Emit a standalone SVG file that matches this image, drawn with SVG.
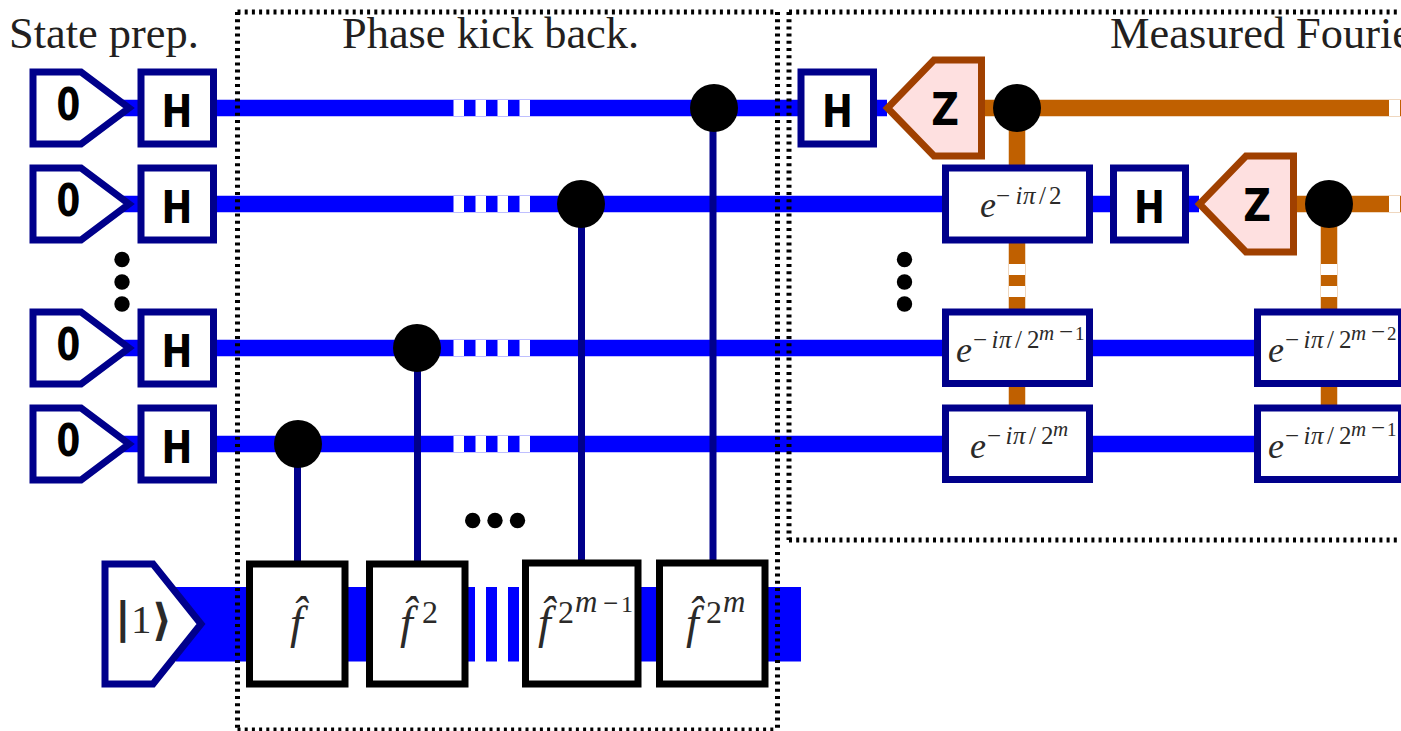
<svg xmlns="http://www.w3.org/2000/svg" width="1401" height="731" viewBox="0 0 1401 731">
<style>
.title{font-family:"Liberation Serif",serif;font-size:44.4px;fill:#231f20}
.lbl{font-family:"DejaVu Sans",sans-serif;font-weight:bold;font-size:45px;fill:#000;text-anchor:middle}
.m{font-family:"Liberation Serif",serif;font-style:italic;fill:#2b2a29}
.e{font-size:36px}.s{font-size:25px;font-style:normal}.si{font-size:25px}.ss{font-size:21px}.ssn{font-size:19px;font-style:normal}.ssm{font-size:25px;font-style:normal}
.f{font-size:46px}.sq{font-size:32px;font-style:normal}.sm{font-size:31px}.sn{font-size:24px;font-style:normal}.snm{font-size:27px;font-style:normal}
.bx{fill:#fff;stroke:#00008b;stroke-width:7}
.bk{fill:#fff;stroke:#000;stroke-width:7}
.zz{fill:#fee0e0;stroke:#a04000;stroke-width:7}
.blue{stroke:#00f;stroke-width:16.5;fill:none}
.or{stroke:#c06000;stroke-width:16.5;fill:none}
.ctl{stroke:#00008b;stroke-width:7;fill:none}
.dh{stroke:#000;stroke-width:5;stroke-dasharray:3 4.2;fill:none}
.dv{stroke:#000;stroke-width:5;stroke-dasharray:3 4.2;fill:none}
</style>
<defs>
<g id="gaps" fill="#fff"><rect x="453.5" y="-8" width="10.5" height="16"/><rect x="475.5" y="-8" width="10.5" height="16"/><rect x="497.5" y="-8" width="10.5" height="16"/><rect x="519.5" y="-8" width="10.5" height="16"/></g>
<g id="vgaps" fill="#fff"><rect x="-8" y="264" width="16" height="11"/><rect x="-8" y="286" width="16" height="11"/></g>
</defs>
<rect width="1401" height="731" fill="#fff"/>
<g id="connectors">
<path class="blue" d="M120 108H887M120 204H1199M120 348H1401M120 444H1401"/>
<path class="or" d="M985 108H1401M1297 204H1401M1017 108V408M1329 204V408"/>
<rect x="176" y="587" width="625" height="74.5" fill="#00f"/>
<use href="#gaps" y="108"/><use href="#gaps" y="204"/><use href="#gaps" y="348"/><use href="#gaps" y="444"/>
<rect x="1389" y="100" width="11" height="16" fill="#fff"/><rect x="1389" y="196" width="11" height="16" fill="#fff"/>
<use href="#vgaps" x="1017"/><use href="#vgaps" x="1329"/>
<rect x="475" y="586" width="11" height="76" fill="#fff"/><rect x="497" y="586" width="11" height="76" fill="#fff"/><rect x="519" y="586" width="3" height="76" fill="#fff"/>
<path class="ctl" d="M297.500 444V564M417.500 348V564M581.500 204V564M713 108V564"/>
</g>
<g id="frames">
<path class="dh" d="M237.500 12H777"/><path class="dv" d="M237.500 12V731"/><path class="dv" d="M777.500 12V731"/><path class="dh" d="M237.500 730H777" stroke-width="3"/>
<path class="dh" d="M789 12H1401"/><path class="dv" d="M789 12V540"/><path class="dh" d="M789 540H1401"/>
</g>
<g id="titles">
<text class="title" x="9" y="48">State prep.</text>
<text class="title" x="342" y="48">Phase kick back.</text>
<text class="title" x="1110" y="48">Measured Fourie</text>
</g>
<g id="state-row1"><path class="bx" d="M33 72H81L129 108L81 144H33Z"/><text class="lbl" transform="translate(68.500 120) scale(.76 1)">0</text></g>
<g id="state-row2"><path class="bx" d="M33 168H81L129 204L81 240H33Z"/><text class="lbl" transform="translate(68.500 216) scale(.76 1)">0</text></g>
<g id="state-row3"><path class="bx" d="M33 312H81L129 348L81 384H33Z"/><text class="lbl" transform="translate(68.500 360) scale(.76 1)">0</text></g>
<g id="state-row4"><path class="bx" d="M33 408H81L129 444L81 480H33Z"/><text class="lbl" transform="translate(68.500 456) scale(.76 1)">0</text></g>
<g id="h-row1"><rect class="bx" x="141" y="72" width="72.500" height="72"/><text class="lbl" transform="translate(177 126.500) scale(.82 1)">H</text></g>
<g id="h-row2"><rect class="bx" x="141" y="168" width="72.500" height="72"/><text class="lbl" transform="translate(177 222.500) scale(.82 1)">H</text></g>
<g id="h-row3"><rect class="bx" x="141" y="312" width="72.500" height="72"/><text class="lbl" transform="translate(177 366.500) scale(.82 1)">H</text></g>
<g id="h-row4"><rect class="bx" x="141" y="408" width="72.500" height="72"/><text class="lbl" transform="translate(177 462.500) scale(.82 1)">H</text></g>
<g id="ctrl1"><circle cx="298" cy="444" r="24"/></g>
<g id="ctrl2"><circle cx="417" cy="348" r="24"/></g>
<g id="ctrl3"><circle cx="581" cy="204" r="24"/></g>
<g id="ctrl4"><circle cx="714" cy="108" r="24"/></g>
<g id="dots-left"><circle cx="122" cy="259.500" r="7.700"/><circle cx="122" cy="282" r="7.700"/><circle cx="122" cy="304" r="7.700"/></g>
<g id="dots-mid"><circle cx="904.500" cy="259.500" r="7.700"/><circle cx="904.500" cy="282" r="7.700"/><circle cx="904.500" cy="304" r="7.700"/></g>
<g id="dots-bottom"><circle cx="472.700" cy="520.500" r="7.700"/><circle cx="495" cy="520.500" r="7.700"/><circle cx="517.500" cy="520.500" r="7.700"/></g>
<g id="h-m1"><rect class="bx" x="801" y="72" width="72.500" height="72"/><text class="lbl" transform="translate(837.500 126.500) scale(.82 1)">H</text></g>
<g id="z1"><path class="zz" d="M981.500 60H934L887.500 108L934 156H981.500Z"/><text class="lbl" transform="translate(945 125) scale(.85 1)">Z</text></g>
<g id="c-m1"><circle cx="1017" cy="108" r="24"/></g>
<g id="h-m2"><rect class="bx" x="1113.500" y="168" width="72" height="72"/><text class="lbl" transform="translate(1149.500 222.500) scale(.82 1)">H</text></g>
<g id="z2"><path class="zz" d="M1293.500 156H1246L1199.500 204L1246 252H1293.500Z"/><text class="lbl" transform="translate(1257 221) scale(.85 1)">Z</text></g>
<g id="c-m2"><circle cx="1329" cy="204" r="24"/></g>
<g id="phase-a"><rect class="bx" x="945.500" y="168" width="144" height="72"/>
<text class="m"><tspan class="e" x="980" y="217">e</tspan><tspan class="s" x="996" y="204">−</tspan><tspan class="si" x="1015.500" y="204">i</tspan><tspan class="si" x="1023" y="204">π</tspan><tspan class="s" x="1039" y="204">/</tspan><tspan class="s" x="1049" y="204">2</tspan></text></g>
<g id="phase-b"><rect class="bx" x="945.500" y="312" width="144" height="71.500"/>
<text class="m"><tspan class="e" x="956" y="361.500">e</tspan><tspan class="s" x="973" y="348">−</tspan><tspan class="si" x="991.500" y="348">i</tspan><tspan class="si" x="999" y="348">π</tspan><tspan class="s" x="1015" y="348">/</tspan><tspan class="s" x="1027" y="348">2</tspan><tspan class="ss" x="1039" y="340">m</tspan><tspan class="ssm" x="1059" y="340">−</tspan><tspan class="ssn" x="1075" y="340">1</tspan></text></g>
<g id="phase-c"><rect class="bx" x="945.500" y="408" width="144" height="71.500"/>
<text class="m"><tspan class="e" x="970" y="457.500">e</tspan><tspan class="s" x="987" y="444">−</tspan><tspan class="si" x="1005.500" y="444">i</tspan><tspan class="si" x="1013" y="444">π</tspan><tspan class="s" x="1029" y="444">/</tspan><tspan class="s" x="1041" y="444">2</tspan><tspan class="ss" x="1053" y="436">m</tspan></text></g>
<g id="phase-d"><rect class="bx" x="1257.500" y="312" width="144" height="71.500"/>
<text class="m"><tspan class="e" x="1268" y="361.500">e</tspan><tspan class="s" x="1285" y="348">−</tspan><tspan class="si" x="1303.500" y="348">i</tspan><tspan class="si" x="1311" y="348">π</tspan><tspan class="s" x="1327" y="348">/</tspan><tspan class="s" x="1339" y="348">2</tspan><tspan class="ss" x="1351" y="340">m</tspan><tspan class="ssm" x="1371" y="340">−</tspan><tspan class="ssn" x="1387" y="340">2</tspan></text></g>
<g id="phase-e"><rect class="bx" x="1257.500" y="408" width="144" height="71.500"/>
<text class="m"><tspan class="e" x="1268" y="457.500">e</tspan><tspan class="s" x="1285" y="444">−</tspan><tspan class="si" x="1303.500" y="444">i</tspan><tspan class="si" x="1311" y="444">π</tspan><tspan class="s" x="1327" y="444">/</tspan><tspan class="s" x="1339" y="444">2</tspan><tspan class="ss" x="1351" y="436">m</tspan><tspan class="ssm" x="1371" y="436">−</tspan><tspan class="ssn" x="1387" y="436">1</tspan></text></g>
<g id="ket"><path class="bx" d="M105 564H153L201 624L153 684H105Z"/>
<text class="m" style="font-style:normal"><tspan x="115" y="633" font-family="DejaVu Sans" font-weight="bold" font-size="43">|</tspan><tspan x="131" y="632.500" font-size="41">1</tspan><tspan x="152" y="635" font-family="DejaVu Sans" font-weight="bold" font-size="44">⟩</tspan></text></g>
<g id="f1"><rect class="bk" x="249.500" y="564" width="95.500" height="120"/>
<text class="m"><tspan class="f" x="290" y="638">f̂</tspan></text></g>
<g id="f2"><rect class="bk" x="369.500" y="564" width="95.500" height="120"/>
<text class="m"><tspan class="f" x="400" y="638">f̂</tspan><tspan class="sq" x="422" y="623">2</tspan></text></g>
<g id="f3"><rect class="bk" x="525.500" y="563" width="112.500" height="121"/>
<text class="m"><tspan class="f" x="538" y="638">f̂</tspan><tspan class="sq" x="558" y="623">2</tspan><tspan class="sm" x="575" y="611.500">m</tspan><tspan class="snm" x="603" y="611.500">−</tspan><tspan class="sn" x="621" y="611.500">1</tspan></text></g>
<g id="f4"><rect class="bk" x="659.500" y="563" width="105.500" height="121"/>
<text class="m"><tspan class="f" x="686" y="638">f̂</tspan><tspan class="sq" x="706" y="623">2</tspan><tspan class="sm" x="723" y="611.500">m</tspan></text></g>
</svg>
